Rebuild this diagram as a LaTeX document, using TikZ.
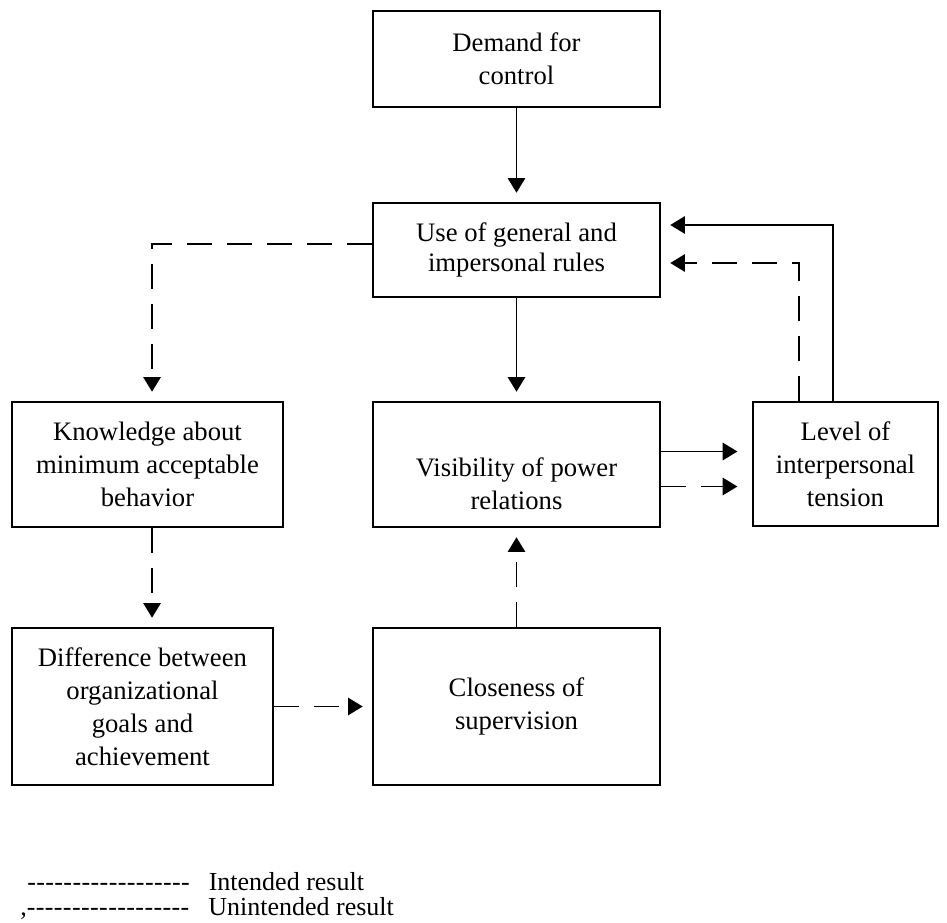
\documentclass[tikz,border=0pt]{standalone}
\usepackage{fontspec}
\setmainfont{Liberation Serif}
\usetikzlibrary{arrows.meta,positioning,calc}

% a row of hyphens kept apart, so no dash ligature forms
\newcommand{\keydashes}{\foreach \k in {1,...,18}{\mbox{-}\hspace{0.3pt}}}

\begin{document}
\begin{tikzpicture}[
    x=0.75pt, y=-0.75pt,
    block/.style={
        rectangle,
        draw,
        line width=1.4pt,
        align=center,
        inner sep=0pt,
        font=\fontsize{20}{24.75}\selectfont
    },
    line/.style={
        draw,
        line width=1.4pt,
        -{Triangle[length=11pt,width=13pt]},
        shorten >=7pt
    },
    unintended/.style={
        dash pattern=on 19pt off 11pt
    },
    legend/.style={
        anchor=west,
        inner sep=0pt,
        font=\fontsize{19.5}{23}\selectfont
    }
]

\useasboundingbox (0,0) rectangle (947,922);

% Nodes
\node [block, minimum width=215.25pt, minimum height=72pt] (demand) at (516.5,59) {Demand for\\control};
\node [block, minimum width=215.25pt, minimum height=70.5pt] (use) at (516.5,250) {Use of general and\\[-2pt]impersonal rules};

\node [block, minimum width=203.25pt, minimum height=93.75pt] (knowledge) at (147.5,464.5) {Knowledge about\\minimum acceptable\\behavior};
\node [block, minimum width=215.25pt, minimum height=93.75pt] (visibility) at (516.5,464.5) {};
\node [block, draw=none] (visibilitytext) at ([yshift=-14.25pt]visibility.center) {Visibility of power\\relations};
\node [block, minimum width=138.75pt, minimum height=93pt] (level) at (845.5,464) {Level of\\interpersonal\\tension};

\node [block, minimum width=195.75pt, minimum height=117.75pt] (difference) at (142.5,706.5) {Difference between\\organizational\\goals and\\achievement};
\node [block, minimum width=215.25pt, minimum height=117.75pt] (closeness) at (516.5,706.5) {Closeness of\\supervision};

% Legend
\node [legend] (intendedkey) at (27,882) {\keydashes\hspace{9pt} Intended result};
\node [legend] (unintendedkey) at (20,908) {,\keydashes\hspace{9pt} Unintended result};

% Paths
% 1. down the middle column
\draw [line] (demand) -- (use);
\draw [line] (use) -- (visibility);

% 2. rules -> knowledge -> difference -> closeness -> visibility
\draw [line, unintended] ([yshift=4.5pt]use.west) -| ([xshift=3.4pt]knowledge.north);
\draw [line, unintended] ([xshift=3.4pt]knowledge.south) -- ([xshift=3.4pt]knowledge.south |- difference.north);
\draw [line, unintended] (difference) -- (closeness);
\draw [line, unintended] (closeness) -- (visibility);

% 3. visibility -> tension
\draw [line, shorten >=11pt] ([yshift=9.75pt]visibility.east) -- ([yshift=9.75pt]visibility.east -| level.west);
\draw [line, unintended, shorten >=11pt] ([yshift=-16.5pt]visibility.east) -- ([yshift=-16.5pt]visibility.east -| level.west);

% 4. tension back to the rules
\draw [line] ([xshift=-9.4pt]level.north) |- ([yshift=18.75pt]use.east);
\draw [line, unintended] ([xshift=-35pt]level.north) |- ([yshift=-9.75pt]use.east);

\end{tikzpicture}
\end{document}
